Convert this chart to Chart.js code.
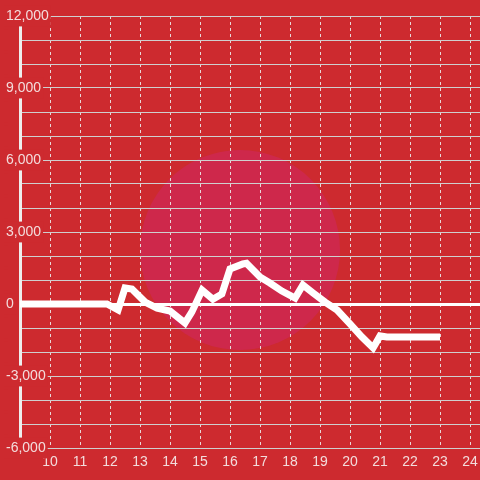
<!DOCTYPE html>
<html>
<head>
<meta charset="utf-8">
<script src="https://cdn.jsdelivr.net/npm/chart.js@4/dist/chart.umd.min.js"></script>
<style>
  html, body { margin: 0; padding: 0; background: #cd2a2f; }
  #wrap { width: 480px; height: 480px; }
</style>
</head>
<body>
<div id="wrap"><canvas id="myChart" width="480" height="480"></canvas></div>
<script>
// hours on the x axis, values on the y axis
var hours = [9, 11.9, 12.27, 12.5, 12.73, 13.17, 13.57, 14.0, 14.5, 14.73,
             15.07, 15.43, 15.73, 16.0, 16.43, 16.55, 17.0, 17.33, 17.73, 18.17,
             18.43, 18.77, 19.17, 19.57, 20.0, 20.4, 20.77, 21.0, 21.23, 23];
var values = [0, 0, -250, 670, 625, 80, -170, -290, -790, -330,
              580, 200, 420, 1460, 1670, 1700, 1125, 875, 540, 250,
              790, 460, 80, -250, -830, -1375, -1830, -1330, -1375, -1375];
var xTicks = [10, 11, 12, 13, 14, 15, 16, 17, 18, 19, 20, 21, 22, 23, 24];
var yLabelTicks = [-6000, -3000, 0, 3000, 6000, 9000, 12000];

var bg = '#cd2a2f';

var points = hours.map(function(h, i) { return { x: h, y: values[i] }; });

// faint round watermark behind the grid
var watermark = {
    id: 'watermark',
    beforeDraw: function(chart) {
        var c = chart.ctx;
        c.save();
        c.fillStyle = bg;
        c.fillRect(0, 0, chart.width, chart.height);
        c.beginPath();
        c.arc(240, 250, 100, 0, Math.PI * 2);
        c.fillStyle = 'rgba(205, 40, 85, 0.75)';
        c.fill();
        c.restore();
    }
};

document.addEventListener("DOMContentLoaded", function() {
    var ctx = document.getElementById('myChart').getContext('2d');
    var myChart = new Chart(ctx, {
        type: 'line',
        data: {
            datasets: [{
                data: points,
                borderColor: '#ffffff',
                borderWidth: 7,
                pointRadius: 0,
                tension: 0,
                fill: false
            }]
        },
        plugins: [watermark],
        options: {
            responsive: false,
            animation: false,
            layout: { padding: { top: 16, left: 0, right: 0, bottom: 0 } },
            plugins: { legend: { display: false }, tooltip: { enabled: false } },
            scales: {
                x: {
                    type: 'linear',
                    min: 9,
                    max: 24.333,
                    afterFit: function(scale) {
                        scale.height = 32;
                        scale.paddingLeft = 0;
                        scale.paddingRight = 0;
                    },
                    border: { display: false, dash: [3, 3] },
                    grid: {
                        color: function(c) { return c.tick && c.tick.value === 9 ? 'rgba(0,0,0,0)' : 'rgba(235, 235, 235, 0.9)'; },
                        lineWidth: 1,
                        drawTicks: false
                    },
                    ticks: {
                        stepSize: 1,
                        includeBounds: false,
                        color: '#f3dcdc',
                        padding: 6,
                        font: { family: 'Liberation Sans', size: 14 },
                        maxRotation: 0,
                        autoSkip: false,
                        callback: function(v) { return xTicks.indexOf(v) >= 0 ? v : ''; }
                    }
                },
                y: {
                    min: -6000,
                    max: 12000,
                    afterFit: function(scale) { scale.width = 20; },
                    border: { display: true, color: '#eeeeee', width: 3 },
                    grid: {
                        drawTicks: false,
                        color: function(c) { return c.tick && c.tick.value === 0 ? '#ffffff' : '#cfcfcf'; },
                        lineWidth: function(c) { return c.tick && c.tick.value === 0 ? 3 : 1; }
                    },
                    ticks: {
                        stepSize: 1000,
                        mirror: true,
                        padding: -14,
                        color: '#f3dcdc',
                        font: { family: 'Liberation Sans', size: 14 },
                        showLabelBackdrop: true,
                        backdropColor: bg,
                        backdropPadding: 2,
                        callback: function(v) {
                            return yLabelTicks.indexOf(v) >= 0 ? v.toLocaleString('en-US') : '';
                        }
                    }
                }
            }
        }
    });
});
</script>
</body>
</html>
